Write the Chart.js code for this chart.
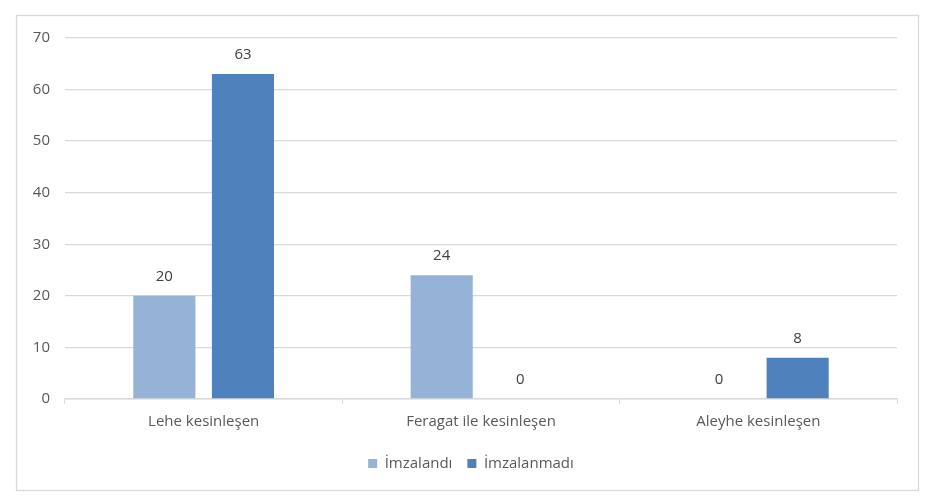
<!DOCTYPE html>
<html>
<head>
<meta charset="utf-8">
<script src="https://cdn.jsdelivr.net/npm/chart.js@4"></script>
<style>
  html, body { margin: 0; padding: 0; background: #fff; }
  #wrap { position: relative; width: 942px; height: 501px; }
</style>
</head>
<body>
<div id="wrap"><canvas id="chart" width="942" height="501"></canvas></div>
<script>
// chart data
const categories = ["Lehe kesinleşen", "Feragat ile kesinleşen", "Aleyhe kesinleşen"];
const imzalandi = [20, 24, 0];
const imzalanmadi = [63, 0, 8];
const yTicks = [0, 10, 20, 30, 40, 50, 60, 70];

const textColor = "#595959";
const gridColor = "#d9d9d9";
const fontFamily = "'Open Sans', 'Noto Sans', sans-serif";

// frame around the whole chart
const framePlugin = {
  id: "frame",
  beforeDraw(chart) {
    const ctx = chart.ctx;
    ctx.save();
    ctx.fillStyle = "#fff";
    ctx.fillRect(0, 0, chart.width, chart.height);
    ctx.strokeStyle = gridColor;
    ctx.lineWidth = 1.3;
    ctx.strokeRect(16.5, 15.5, 902, 475);
    ctx.restore();
  }
};

// value labels above bars (0 values too)
const valueLabels = {
  id: "valueLabels",
  afterDatasetsDraw(chart) {
    const ctx = chart.ctx;
    ctx.save();
    ctx.font = "15px " + fontFamily;
    ctx.fillStyle = "#404040";
    ctx.textAlign = "center";
    ctx.textBaseline = "middle";
    chart.data.datasets.forEach((ds, i) => {
      const meta = chart.getDatasetMeta(i);
      meta.data.forEach((bar, j) => {
        ctx.fillText(String(ds.data[j]), bar.x, bar.y - 19);
      });
    });
    ctx.restore();
  }
};

const ctx = document.getElementById("chart").getContext("2d");
new Chart(ctx, {
  type: "bar",
  data: {
    labels: categories,
    datasets: [
      {
        label: "İmzalandı",
        data: imzalandi,
        backgroundColor: "#95b3d7",
        categoryPercentage: 0.567,
        barPercentage: 0.79
      },
      {
        label: "İmzalanmadı",
        data: imzalanmadi,
        backgroundColor: "#4f81bd",
        categoryPercentage: 0.567,
        barPercentage: 0.79
      }
    ]
  },
  options: {
    responsive: false,
    animation: false,
    layout: { padding: { left: 20, right: 20, top: 38, bottom: 20 } },
    plugins: {
      legend: {
        position: "bottom",
        labels: {
          color: textColor,
          font: { family: fontFamily, size: 15 },
          boxWidth: 9,
          boxHeight: 9,
          padding: 15
        }
      },
      tooltip: { enabled: false }
    },
    scales: {
      x: {
        afterFit(scale) {
          scale.height = 42;
        },
        grid: {
          drawOnChartArea: false,
          drawTicks: true,
          tickLength: 5,
          color: gridColor,
          offset: true
        },
        border: { color: gridColor, width: 1.5 },
        ticks: {
          color: textColor,
          font: { family: fontFamily, size: 15 },
          padding: 9
        }
      },
      y: {
        min: 0,
        max: 70,
        afterBuildTicks(scale) {
          scale.ticks = yTicks.map(v => ({ value: v }));
        },
        afterFit(scale) {
          scale.width = 45;
        },
        grid: { color: gridColor, lineWidth: 1.3, drawTicks: false },
        border: { display: false },
        ticks: {
          color: textColor,
          font: { family: fontFamily, size: 15 },
          padding: 15
        }
      },
      // empty right-hand spacer so the legend centres on the whole frame
      spacer: {
        type: "linear",
        position: "right",
        afterFit(scale) {
          scale.width = 25;
        },
        grid: { display: false },
        border: { display: false },
        ticks: { display: false }
      }
    }
  },
  plugins: [framePlugin, valueLabels]
});
</script>
</body>
</html>
